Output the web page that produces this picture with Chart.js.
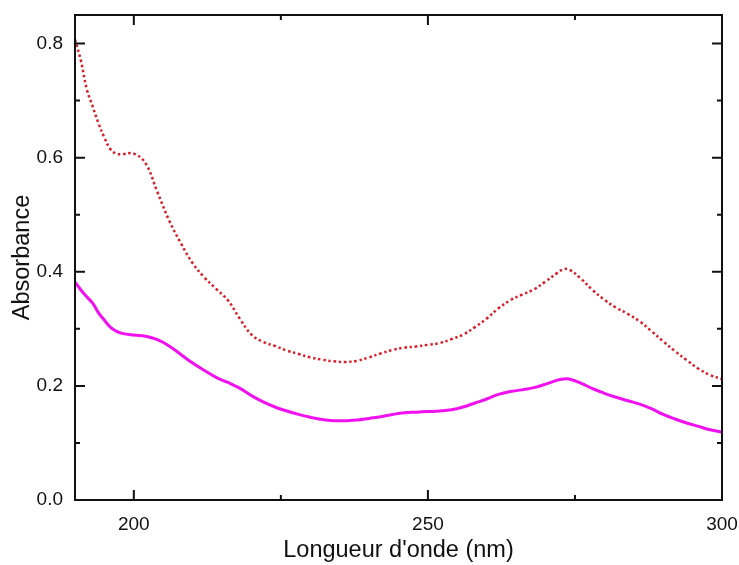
<!DOCTYPE html>
<html>
<head>
<meta charset="utf-8">
<script src="https://cdn.jsdelivr.net/npm/chart.js@4/dist/chart.umd.min.js"></script>
<style>
  html, body { margin: 0; padding: 0; background: #fff; }
</style>
</head>
<body>
<canvas id="spectre" width="739" height="565"></canvas>
<script>
// longueurs d'onde (nm) et absorbances
const wavelengths = [190, 191, 192, 193, 194, 195, 196, 197, 198, 200, 202, 204, 206, 208, 210, 212, 214, 216, 218, 220,
  222, 224, 226, 228, 230, 232, 234, 236, 238, 240, 242, 244, 246, 248, 250, 252, 254, 256, 258, 260,
  262, 264, 266, 268, 270, 272, 273, 274, 276, 278, 280, 282, 284, 286, 288, 290, 292, 294, 296, 298, 300];

const absRed = [0.807, 0.77, 0.72, 0.69, 0.66, 0.635, 0.615, 0.607, 0.606, 0.607, 0.59, 0.54, 0.49, 0.45, 0.415, 0.39, 0.37, 0.35, 0.318, 0.29,
  0.277, 0.27, 0.262, 0.256, 0.25, 0.246, 0.243, 0.242, 0.244, 0.25, 0.257, 0.263, 0.267, 0.269, 0.272, 0.275, 0.282, 0.29, 0.303, 0.318,
  0.336, 0.35, 0.36, 0.369, 0.383, 0.398, 0.404, 0.404, 0.388, 0.368, 0.351, 0.337, 0.326, 0.313, 0.296, 0.278, 0.261, 0.245, 0.23, 0.219, 0.212];

const absMagenta = [0.382, 0.368, 0.356, 0.345, 0.328, 0.315, 0.303, 0.296, 0.292, 0.289, 0.287, 0.281, 0.27, 0.255, 0.24, 0.227, 0.215, 0.206, 0.196, 0.183,
  0.172, 0.163, 0.156, 0.15, 0.145, 0.141, 0.139, 0.139, 0.14, 0.143, 0.146, 0.15, 0.153, 0.154, 0.155, 0.156, 0.158, 0.163, 0.17, 0.177,
  0.185, 0.19, 0.193, 0.197, 0.203, 0.21, 0.212, 0.212, 0.205, 0.195, 0.187, 0.18, 0.174, 0.168, 0.16, 0.15, 0.142, 0.135, 0.129, 0.123, 0.119];

const xMajor = [200, 250, 300];
const xMinor = [225, 275];
const yMajor = [0, 0.2, 0.4, 0.6, 0.8];
const yMinor = [0.1, 0.3, 0.5, 0.7];

const toPoints = vals => wavelengths.map((w, i) => ({x: w, y: vals[i]}));

// cadre + graduations vers l'interieur sur les 4 cotes
const frameTicks = {
  id: 'frameTicks',
  afterDraw(chart) {
    const {ctx, chartArea: a, scales: {x, y}} = chart;
    ctx.save();
    ctx.strokeStyle = '#111';
    ctx.lineWidth = 2;
    ctx.beginPath();
    const vTick = (v, len) => {
      const px = x.getPixelForValue(v);
      ctx.moveTo(px, a.bottom); ctx.lineTo(px, a.bottom - len);
      ctx.moveTo(px, a.top); ctx.lineTo(px, a.top + len);
    };
    const hTick = (v, len) => {
      const py = y.getPixelForValue(v);
      ctx.moveTo(a.left, py); ctx.lineTo(a.left + len, py);
      ctx.moveTo(a.right, py); ctx.lineTo(a.right - len, py);
    };
    xMajor.forEach(v => vTick(v, 10));
    xMinor.forEach(v => vTick(v, 5));
    yMajor.forEach(v => hTick(v, 10));
    yMinor.forEach(v => hTick(v, 5));
    ctx.stroke();
    ctx.strokeRect(a.left, a.top, a.right - a.left, a.bottom - a.top);
    ctx.restore();
  }
};

// pas de marge auto pour les etiquettes aux bords
const noEdgePad = s => {
  s.paddingLeft = 0; s.paddingRight = 0;
  s.paddingTop = 0; s.paddingBottom = 0;
};

const ctx = document.getElementById('spectre').getContext('2d');

new Chart(ctx, {
  type: 'line',
  data: {
    datasets: [{
      label: 'rouge',
      data: toPoints(absRed),
      borderColor: '#dc1c26',
      borderWidth: 2.5,
      borderDash: [2.5, 2.7],
      pointRadius: 0,
      tension: 0.4,
      fill: false
    }, {
      label: 'magenta',
      data: toPoints(absMagenta),
      borderColor: '#f010f0',
      borderWidth: 3,
      pointRadius: 0,
      tension: 0.4,
      fill: false
    }]
  },
  options: {
    responsive: false,
    animation: false,
    layout: { padding: { top: 15, right: 17, left: 0, bottom: 0 } },
    plugins: {
      legend: { display: false },
      tooltip: { enabled: false }
    },
    scales: {
      x: {
        type: 'linear',
        min: 190,
        max: 300,
        grid: { display: false, drawTicks: false },
        border: { display: false },
        afterBuildTicks: s => { s.ticks = xMajor.map(v => ({value: v})); },
        afterFit: s => { s.height = 65; noEdgePad(s); },
        ticks: {
          padding: 13,
          maxRotation: 0,
          autoSkip: false,
          color: '#111',
          font: { family: 'Liberation Sans', size: 19 }
        },
        title: {
          display: true,
          text: "Longueur d'onde (nm)",
          color: '#111',
          padding: { top: 0, bottom: 0 },
          font: { family: 'Liberation Sans', size: 23.5 }
        }
      },
      y: {
        min: 0,
        max: 0.85,
        grid: { display: false, drawTicks: false },
        border: { display: false },
        afterBuildTicks: s => { s.ticks = yMajor.map(v => ({value: v})); },
        afterFit: s => { s.width = 75; noEdgePad(s); },
        ticks: {
          padding: 12,
          color: '#111',
          callback: v => v.toFixed(1),
          font: { family: 'Liberation Sans', size: 19 }
        },
        title: {
          display: true,
          text: 'Absorbance',
          color: '#111',
          padding: { top: 8, bottom: 0 },
          font: { family: 'Liberation Sans', size: 23.5 }
        }
      }
    }
  },
  plugins: [frameTicks]
});
</script>
</body>
</html>
